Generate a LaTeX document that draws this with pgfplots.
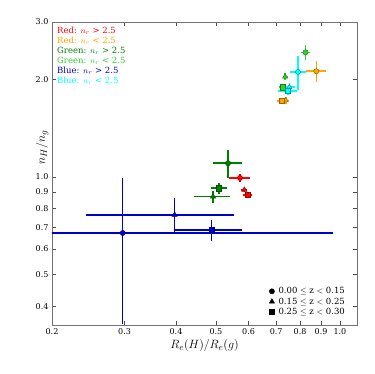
\documentclass[border=0pt]{standalone}
\usepackage{pgfplots}
\pgfplotsset{compat=1.18}
\usepackage{fontspec}
\setmainfont{DejaVu Serif}
\definecolor{cred}{RGB}{255,0,0}
\definecolor{corange}{RGB}{255,165,0}
\definecolor{cgreen}{RGB}{0,128,0}
\definecolor{clime}{RGB}{50,205,50}
\definecolor{cblue}{RGB}{0,0,205}
\definecolor{ccyan}{RGB}{0,255,255}
\pgfplotsset{
  eb/.style={only marks, forget plot, color=#1, line width=1.5pt,
    mark options={fill=#1, draw=#1!60!black, line width=0.5pt, solid},
    error bars/.cd, x dir=both, y dir=both, x explicit, y explicit,
    error mark=none, error bar style={line width=1.5pt, color=#1, solid}},
}
\begin{document}
\begin{tikzpicture}
\begin{axis}[
  scale only axis, width=305pt, height=303pt,
  xmode=log, ymode=log,
  xmin=0.2, xmax=1.1, ymin=0.35, ymax=3.0,
  xtick={0.2,0.3,0.4,0.5,0.6,0.7,0.8,0.9,1.0},
  xticklabels={0.2,0.3,0.4,0.5,0.6,0.7,0.8,0.9,1.0},
  ytick={0.4,0.5,0.6,0.7,0.8,0.9,1.0,2.0,3.0},
  yticklabels={0.4,0.5,0.6,0.7,0.8,0.9,1.0,2.0,3.0},
  minor xtick={}, minor ytick={},
  tick align=inside, major tick length=4pt,
  every tick/.style={black!70},
  axis line style={black!55, line width=0.8pt},
  tick label style={font=\fontsize{8}{9}\selectfont},
  /pgf/number format/assume math mode=true,
  xlabel={$R_e(H)/R_e(g)$},
  ylabel={$n_H/n_g$},
  label style={font=\fontsize{13}{15}\selectfont},
  ylabel style={at={(ticklabel* cs:0.587)}},
  xlabel style={yshift=2pt},
  legend style={at={(rel axis cs:0.974,0.023)}, anchor=south east, draw=none, fill=none,
    font=\fontsize{8.5}{9}\selectfont, row sep=-1.5pt, inner sep=0pt,
    nodes={inner xsep=4pt}},
  legend cell align=left,
]
\addlegendimage{only marks, mark=*, black, mark size=2.6pt}
\addlegendimage{only marks, mark=triangle*, black, mark size=3pt}
\addlegendimage{only marks, mark=square*, black, mark size=2.6pt}
\legend{0.00 $\leq$ z $<$ 0.15, 0.15 $\leq$ z $<$ 0.25, 0.25 $\leq$ z $<$ 0.30}

% Blue: n_r > 2.5
\addplot[mark=*, mark size=2.6pt, eb=cblue] coordinates {(0.297,0.672) += (0.665,0.319) -= (0.296,0.319)};
\addplot[mark=triangle*, mark size=3pt, eb=cblue] coordinates {(0.397,0.764) +- (0.155,0.095)};
\addplot[mark=square*, mark size=2.6pt, eb=cblue] coordinates {(0.488,0.687) +- (0.09,0.052)};
% Green: n_r > 2.5
\addplot[mark=*, mark size=2.6pt, eb=cgreen] coordinates {(0.535,1.102) +- (0.042,0.11)};
\addplot[mark=triangle*, mark size=3pt, eb=cgreen] coordinates {(0.492,0.870) +- (0.049,0.038)};
\addplot[mark=square*, mark size=2.6pt, eb=cgreen] coordinates {(0.509,0.923) +- (0.023,0.035)};
% Red: n_r > 2.5
\addplot[mark=*, mark size=2.6pt, eb=cred] coordinates {(0.572,0.993) +- (0.034,0.025)};
\addplot[mark=triangle*, mark size=3pt, eb=cred] coordinates {(0.586,0.912) +- (0.010,0.015)};
\addplot[mark=square*, mark size=2.6pt, eb=cred] coordinates {(0.596,0.879) +- (0.015,0.015)};
% Orange: n_r < 2.5
\addplot[mark=*, mark size=2.6pt, eb=corange] coordinates {(0.876,2.116) +- (0.05,0.16)};
\addplot[mark=triangle*, mark size=3pt, eb=corange] coordinates {(0.739,1.72) +- (0.012,0.04)};
\addplot[mark=square*, mark size=2.6pt, eb=corange] coordinates {(0.723,1.714) +- (0.02,0.04)};
% Lime: n_r < 2.5
\addplot[mark=*, mark size=2.6pt, eb=clime] coordinates {(0.825,2.42) +- (0.022,0.13)};
\addplot[mark=triangle*, mark size=3pt, eb=clime] coordinates {(0.736,2.036) +- (0.01,0.05)};
\addplot[mark=square*, mark size=2.6pt, eb=clime] coordinates {(0.727,1.889) +- (0.015,0.04)};
% Cyan: n_r < 2.5
\addplot[mark=*, mark size=2.6pt, eb=ccyan] coordinates {(0.791,2.105) +- (0.034,0.25)};
\addplot[mark=triangle*, mark size=3pt, eb=ccyan] coordinates {(0.754,1.889) +- (0.025,0.06)};
\addplot[mark=square*, mark size=2.6pt, eb=ccyan] coordinates {(0.747,1.84) +- (0.04,0.05)};

\node[anchor=north west, align=left, inner sep=0pt, font=\fontsize{8.5}{10}\selectfont]
  at ([shift={(5pt,-5pt)}]rel axis cs:0,1) {%
  \textcolor{cred}{Red: $n_r$ > 2.5}\\
  \textcolor{corange}{Red: $n_r$ < 2.5}\\
  \textcolor{cgreen}{Green: $n_r$ > 2.5}\\
  \textcolor{clime}{Green: $n_r$ < 2.5}\\
  \textcolor{cblue}{Blue: $n_r$ > 2.5}\\
  \textcolor{ccyan}{Blue: $n_r$ < 2.5}};
\coordinate (sw) at (rel axis cs:0,0);
\coordinate (ne) at (rel axis cs:1,1);
\end{axis}
\path ([shift={(-52pt,-49pt)}]sw) rectangle ([shift={(17pt,22pt)}]ne);
\end{tikzpicture}
\end{document}
